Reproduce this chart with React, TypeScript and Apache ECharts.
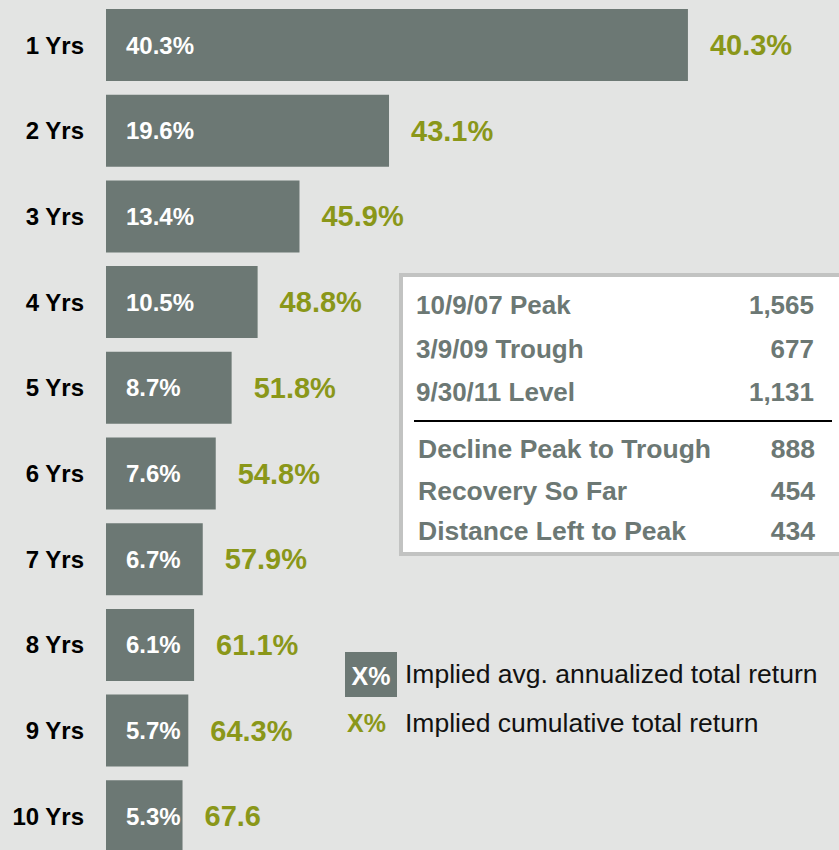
import React, { useEffect, useRef } from "react";
import * as echarts from "echarts";

const categories = ["1 Yrs", "2 Yrs", "3 Yrs", "4 Yrs", "5 Yrs", "6 Yrs", "7 Yrs", "8 Yrs", "9 Yrs", "10 Yrs"];
const annualized = [40.3, 19.6, 13.4, 10.5, 8.7, 7.6, 6.7, 6.1, 5.7, 5.3];
const cumulativeLabels = ["40.3%", "43.1%", "45.9%", "48.8%", "51.8%", "54.8%", "57.9%", "61.1%", "64.3%", "67.6"];
const tableTopLabels = ["10/9/07 Peak", "3/9/09 Trough", "9/30/11 Level"];
const tableTopValues = ["1,565", "677", "1,131"];
const tableBottomLabels = ["Decline Peak to Trough", "Recovery So Far", "Distance Left to Peak"];
const tableBottomValues = ["888", "454", "434"];
const legendLabels = ["Implied avg. annualized total return", "Implied cumulative total return"];

const BAR = "#6c7874";
const OLIVE = "#8a9719";
const BG = "#e3e4e3";
const FONT = "'Liberation Sans', Arial, sans-serif";

export default function App() {
  const ref = useRef<HTMLDivElement>(null);
  useEffect(() => {
    document.body.style.margin = "0";
    const chart = echarts.init(ref.current!, null, { renderer: "svg" });
    const topYs = [305, 349, 392];
    const botYs = [449, 491, 531];
    const graphics: any[] = [
      {
        type: "rect",
        shape: { x: 401, y: 275, width: 500, height: 279 },
        style: { fill: "#ffffff", stroke: "#c2c3c2", lineWidth: 4 },
        z: 10,
      },
      {
        type: "line",
        shape: { x1: 414, y1: 421, x2: 832, y2: 421 },
        style: { stroke: "#000000", lineWidth: 2 },
        z: 11,
      },
    ];
    tableTopLabels.forEach((t, i) => {
      graphics.push({
        type: "text", x: 416, y: topYs[i], z: 11,
        style: { text: t, fill: BAR, font: `bold 26px ${FONT}`, textAlign: "left", textVerticalAlign: "middle" },
      });
      graphics.push({
        type: "text", x: 814, y: topYs[i], z: 11,
        style: { text: tableTopValues[i], fill: BAR, font: `bold 26px ${FONT}`, textAlign: "right", textVerticalAlign: "middle" },
      });
    });
    tableBottomLabels.forEach((t, i) => {
      graphics.push({
        type: "text", x: 418, y: botYs[i], z: 11,
        style: { text: t, fill: BAR, font: `bold 26.5px ${FONT}`, textAlign: "left", textVerticalAlign: "middle" },
      });
      graphics.push({
        type: "text", x: 815, y: botYs[i], z: 11,
        style: { text: tableBottomValues[i], fill: BAR, font: `bold 26.5px ${FONT}`, textAlign: "right", textVerticalAlign: "middle" },
      });
    });
    // legend
    graphics.push({
      type: "rect", z: 10,
      shape: { x: 345, y: 652, width: 52, height: 45 },
      style: { fill: BAR },
    });
    graphics.push({
      type: "text", x: 371, y: 676, z: 11,
      style: { text: "X%", fill: "#ffffff", font: `bold 25px ${FONT}`, textAlign: "center", textVerticalAlign: "middle" },
    });
    graphics.push({
      type: "text", x: 405, y: 674, z: 11,
      style: { text: legendLabels[0], fill: "#111111", font: `26.5px ${FONT}`, textAlign: "left", textVerticalAlign: "middle" },
    });
    graphics.push({
      type: "text", x: 347, y: 723, z: 11,
      style: { text: "X%", fill: OLIVE, font: `bold 25px ${FONT}`, textAlign: "left", textVerticalAlign: "middle" },
    });
    graphics.push({
      type: "text", x: 405, y: 723, z: 11,
      style: { text: legendLabels[1], fill: "#111111", font: `26.5px ${FONT}`, textAlign: "left", textVerticalAlign: "middle" },
    });

    chart.setOption({
      animation: false,
      backgroundColor: BG,
      grid: { left: 106, top: 2.15, width: 722, height: 857, outerBoundsMode: "none", containLabel: false },
      xAxis: { type: "value", min: 0, max: 50, show: false },
      yAxis: {
        type: "category",
        data: categories,
        inverse: true,
        axisLine: { show: false },
        axisTick: { show: false },
        splitLine: { show: false },
        axisLabel: { margin: 22, color: "#000000", fontWeight: "bold", fontSize: 24, fontFamily: FONT },
      },
      series: [
        {
          type: "bar",
          data: annualized,
          barWidth: 72,
          itemStyle: { color: BAR },
          label: {
            show: true,
            position: "insideLeft",
            distance: 20,
            color: "#ffffff",
            fontWeight: "bold",
            fontSize: 24,
            fontFamily: FONT,
            formatter: (p: any) => `${p.value}%`,
          },
          z: 2,
        },
        {
          type: "bar",
          data: annualized,
          barWidth: 72,
          barGap: "-100%",
          itemStyle: { color: "rgba(0,0,0,0)" },
          label: {
            show: true,
            position: "right",
            distance: 22,
            color: OLIVE,
            fontWeight: "bold",
            fontSize: 29,
            fontFamily: FONT,
            formatter: (p: any) => cumulativeLabels[p.dataIndex],
          },
          z: 3,
        },
      ],
      graphic: graphics,
    });
    return () => chart.dispose();
  }, []);
  return <div ref={ref} style={{ width: 839, height: 850 }} />;
}
